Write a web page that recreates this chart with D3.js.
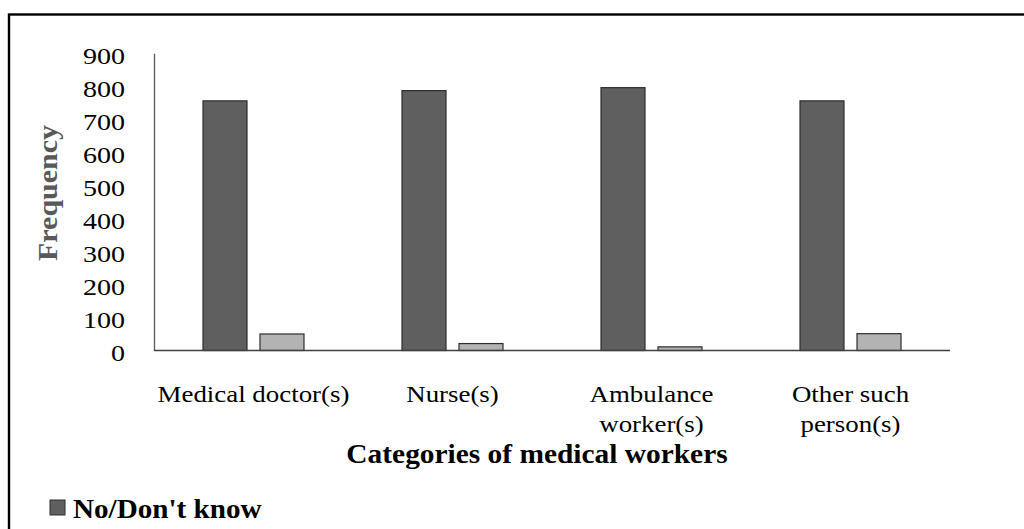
<!DOCTYPE html>
<html>
<head>
<meta charset="utf-8">
<script src="https://cdn.jsdelivr.net/npm/d3@7"></script>
<style>
  body { margin: 0; background: #fff; }
  text { font-family: "Liberation Serif", "Times New Roman", serif; }
</style>
</head>
<body>
<div id="chartDIV"></div>
<script>
// data
const categories = ["Medical doctor(s)", "Nurse(s)", "Ambulance worker(s)", "Other such person(s)"];
const categoryLines = [["Medical doctor(s)"], ["Nurse(s)"], ["Ambulance", "worker(s)"], ["Other such", "person(s)"]];
const seriesNames = ["No/Don't know", "Yes"];
const noValues = [756, 787, 796, 756];
const yesValues = [50, 21, 11, 51];
const yTicks = [0, 100, 200, 300, 400, 500, 600, 700, 800, 900];

const W = 1024, H = 529;
const plot = { left: 154, right: 950, top: 53.3, bottom: 350.5 };

const colors = d3.scaleOrdinal().domain(seriesNames).range(["#5f5f5f", "#b3b3b3"]);

const rows = categories.map((c, i) => ({ cat: c, values: [noValues[i], yesValues[i]] }));

// the text in the picture is drawn wider than the font, so stretch it a bit
function stretch(sel, k) {
  sel.each(function () {
    const len = this.getComputedTextLength();
    d3.select(this).attr("textLength", len * k).attr("lengthAdjust", "spacingAndGlyphs");
  });
}

const svg = d3.select("#chartDIV")
  .append("svg")
  .attr("width", W)
  .attr("height", H);

// outer frame (only top and left sides are in view)
svg.append("rect")
  .attr("x", 9).attr("y", 14.5)
  .attr("width", 1100).attr("height", 600)
  .attr("fill", "none")
  .attr("stroke", "#000")
  .attr("stroke-width", 2.4);

const x0 = d3.scaleBand()
  .domain(categories)
  .range([plot.left, plot.right])
  .paddingInner(0.4925)
  .paddingOuter(0.2462);

const x1 = d3.scaleBand()
  .domain(seriesNames)
  .range([0, x0.bandwidth()])
  .paddingInner(0.228);

const y = d3.scaleLinear().domain([0, 900]).range([plot.bottom, plot.top]);

// y axis
const yAxis = svg.append("g")
  .attr("transform", "translate(" + plot.left + ",0)")
  .call(d3.axisLeft(y).tickValues(yTicks).tickSize(0).tickPadding(29));
yAxis.select(".domain").attr("stroke", "#595959").attr("stroke-width", 1.3);
yAxis.selectAll("text")
  .attr("dy", "0.45em")
  .style("font-size", "23px")
  .style("font-family", "'Liberation Serif', 'Times New Roman', serif")
  .attr("fill", "#000");
stretch(yAxis.selectAll("text"), 1.22);

// bars
const groups = svg.append("g")
  .selectAll("g")
  .data(rows)
  .enter()
  .append("g")
  .attr("transform", d => "translate(" + x0(d.cat) + ",0)");

groups.selectAll("rect")
  .data(d => d.values.map((v, i) => ({ key: seriesNames[i], value: v })))
  .enter()
  .append("rect")
  .attr("x", d => x1(d.key))
  .attr("width", x1.bandwidth())
  .attr("y", d => y(d.value))
  .attr("height", d => y(0) - y(d.value))
  .attr("fill", d => colors(d.key))
  .attr("stroke", "#2e2e2e")
  .attr("stroke-width", 1.2);

// x axis line
svg.append("line")
  .attr("x1", plot.left).attr("x2", plot.right)
  .attr("y1", y(0)).attr("y2", y(0))
  .attr("stroke", "#404040")
  .attr("stroke-width", 1.3);

// category labels
const catLabels = svg.append("g")
  .selectAll("g")
  .data(categories)
  .enter()
  .append("g");

catLabels.each(function (c, i) {
  const g = d3.select(this);
  categoryLines[i].forEach((line, j) => {
    g.append("text")
      .attr("x", x0(c) + x0.bandwidth() / 2)
      .attr("y", y(0) + 51.5 + j * 30)
      .attr("text-anchor", "middle")
      .style("font-size", "24px")
      .attr("fill", "#000")
      .text(line);
  });
});
stretch(catLabels.selectAll("text"), 1.12);

// axis titles
const xTitle = svg.append("text")
  .attr("x", 537)
  .attr("y", 463)
  .attr("text-anchor", "middle")
  .style("font-size", "28px")
  .style("font-weight", "bold")
  .attr("fill", "#000")
  .text("Categories of medical workers");
stretch(xTitle, 1.05);

const yTitle = svg.append("text")
  .attr("transform", "translate(57,193) rotate(-90)")
  .attr("text-anchor", "middle")
  .style("font-size", "28px")
  .style("font-weight", "bold")
  .attr("fill", "#595959")
  .text("Frequency");
stretch(yTitle, 1.07);

// legend
const legend = svg.append("g").attr("transform", "translate(50,500)");
legend.append("rect")
  .attr("width", 15).attr("height", 15)
  .attr("fill", colors(seriesNames[0]))
  .attr("stroke", "#2e2e2e")
  .attr("stroke-width", 1);
const legText = legend.append("text")
  .attr("x", 23)
  .attr("y", 18)
  .style("font-size", "28px")
  .style("font-weight", "bold")
  .attr("fill", "#000")
  .text(seriesNames[0]);
stretch(legText, 1.04);
</script>
</body>
</html>
